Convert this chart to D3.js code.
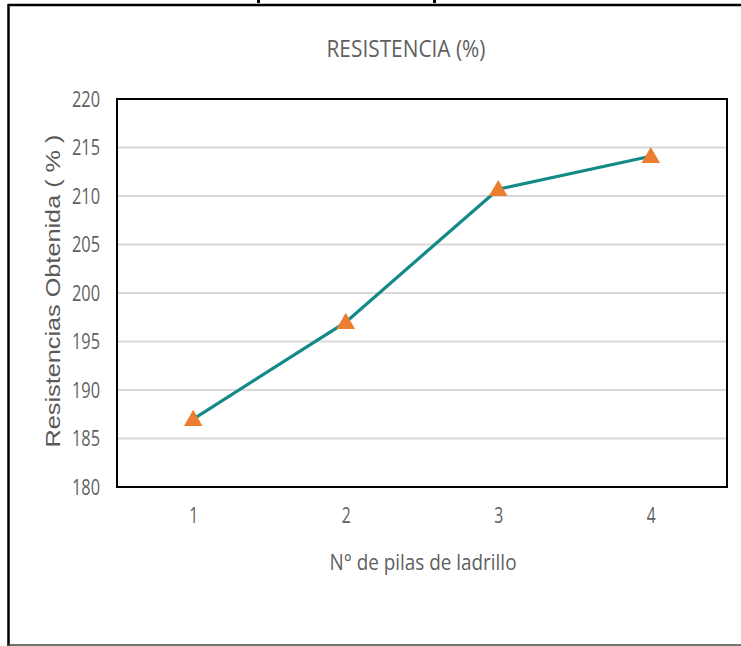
<!DOCTYPE html>
<html>
<head>
<meta charset="utf-8">
<script src="https://cdn.jsdelivr.net/npm/d3@7"></script>
<style>
  html, body { margin: 0; padding: 0; background: #fff; }
  svg { display: block; }
  .cal { font-family: "Open Sans", "Noto Sans", sans-serif; font-weight: 400; fill: #5f5f5f; }
  .ari { font-family: "Liberation Sans", Arial, sans-serif; fill: #595959; }
</style>
</head>
<body>
<div id="chart"></div>
<script>
// Pile count and measured strength (%)
const categories = [1, 2, 3, 4];
const resistencia = [187.0, 197.0, 210.7, 214.1];
const yTicks = [180, 185, 190, 195, 200, 205, 210, 215, 220];

const chartTitle = "RESISTENCIA (%)";
const xTitle = "N° de pilas de ladrillo";
const yTitle = "Resistencias Obtenida ( % )";

const W = 741, H = 646;
const plot = { left: 117, right: 727, top: 99, bottom: 487 };

const svg = d3.select("#chart").append("svg")
  .attr("width", W).attr("height", H);

// outer frame of the figure
svg.append("rect").attr("x", 0).attr("y", 0).attr("width", W).attr("height", H).attr("fill", "#fff");
svg.append("line").attr("x1", 8).attr("x2", W).attr("y1", 5).attr("y2", 5)
  .attr("stroke", "#000").attr("stroke-width", 2.5);
svg.append("line").attr("x1", 8.5).attr("x2", 8.5).attr("y1", 4).attr("y2", H)
  .attr("stroke", "#000").attr("stroke-width", 2.5);
svg.append("line").attr("x1", 8).attr("x2", W).attr("y1", 645).attr("y2", 645)
  .attr("stroke", "#444").attr("stroke-width", 1.5);
// descenders of the heading above the frame
[258, 434].forEach(x => svg.append("rect")
  .attr("x", x - 1).attr("y", 0).attr("width", 3).attr("height", 3).attr("fill", "#000"));

const x = d3.scalePoint().domain(categories).range([plot.left, plot.right]).padding(0.5);
const y = d3.scaleLinear().domain([180, 220]).range([plot.bottom, plot.top]);

// gridlines
svg.append("g").selectAll("line").data(yTicks.slice(1, -1)).join("line")
  .attr("x1", plot.left).attr("x2", plot.right)
  .attr("y1", d => y(d)).attr("y2", d => y(d))
  .attr("stroke", "#d9d9d9").attr("stroke-width", 2);

// plot area border
svg.append("rect")
  .attr("x", plot.left).attr("y", plot.top)
  .attr("width", plot.right - plot.left).attr("height", plot.bottom - plot.top)
  .attr("fill", "none").attr("stroke", "#000").attr("stroke-width", 2);

// y axis labels (narrow face)
const yAxis = d3.axisLeft(y).tickValues(yTicks).tickSize(0).tickPadding(0);
const gy = svg.append("g").attr("transform", `translate(${plot.left - 17},0)`).call(yAxis);
gy.select(".domain").remove();
gy.selectAll("text").attr("class", "cal").attr("font-size", 22).attr("fill", "#5f5f5f")
  .attr("textLength", 28).attr("lengthAdjust", "spacingAndGlyphs");

// x axis labels
const xAxis = d3.axisBottom(x).tickSize(0).tickPadding(0);
const gx = svg.append("g").attr("transform", `translate(0,${plot.bottom + 20})`).call(xAxis);
gx.select(".domain").remove();
gx.selectAll("text").attr("class", "cal").attr("font-size", 22).attr("fill", "#5f5f5f")
  .attr("textLength", 9).attr("lengthAdjust", "spacingAndGlyphs");

// series line
const data = categories.map((c, i) => ({ c, v: resistencia[i] }));
svg.append("path").datum(data)
  .attr("fill", "none").attr("stroke", "#138a87").attr("stroke-width", 3.2)
  .attr("d", d3.line().x(d => x(d.c)).y(d => y(d.v)));

// triangle markers
const tri = d3.symbol().type(d3.symbolTriangle).size(150);
svg.append("g").selectAll("path").data(data).join("path")
  .attr("transform", d => `translate(${x(d.c)},${y(d.v) + 1.5})`)
  .attr("d", tri).attr("fill", "#ed7d31");

// titles
svg.append("text").attr("class", "cal").attr("x", 406).attr("y", 57)
  .attr("text-anchor", "middle").attr("font-size", 23)
  .attr("textLength", 159).attr("lengthAdjust", "spacingAndGlyphs").text(chartTitle);
svg.append("text").attr("class", "cal").attr("x", 423).attr("y", 570)
  .attr("text-anchor", "middle").attr("font-size", 22)
  .attr("textLength", 187).attr("lengthAdjust", "spacingAndGlyphs").text(xTitle);
svg.append("text").attr("class", "ari")
  .attr("transform", "translate(60,291) rotate(-90)")
  .attr("text-anchor", "middle").attr("font-size", 21)
  .attr("textLength", 313).attr("lengthAdjust", "spacingAndGlyphs").text(yTitle);
</script>
</body>
</html>
